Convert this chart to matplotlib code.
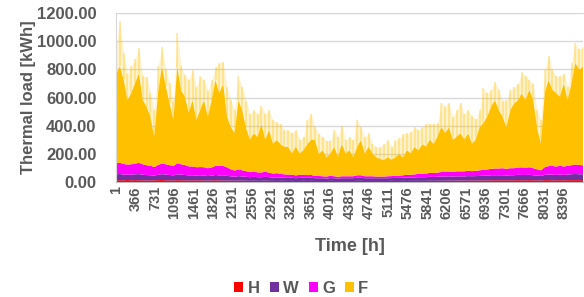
import numpy as np
import matplotlib
matplotlib.use("Agg")
from matplotlib import pyplot as plt
from matplotlib.patches import Patch


# hourly thermal load at ~3 day steps over the year
H = [12, 13, 12, 14, 12, 13, 12, 12, 11, 12,
     12, 13, 14, 12, 12, 11, 13, 12, 12, 11,
     12, 11, 12, 11, 10, 11, 12, 11, 10, 10,
     10, 9, 10, 9, 9, 8, 9, 8, 8, 9,
     8, 8, 7, 8, 8, 7, 8, 7, 7, 8,
     7, 8, 7, 7, 7, 7, 8, 7, 7, 7,
     7, 7, 7, 8, 8, 7, 7, 7, 7, 7,
     7, 7, 8, 7, 7, 8, 7, 8, 8, 8,
     8, 8, 9, 8, 9, 9, 9, 10, 9, 10,
     10, 10, 10, 11, 10, 11, 11, 11, 12, 12,
     12, 12, 12, 12, 12, 13, 12, 12, 13, 12,
     12, 11, 13, 13, 12, 12, 13, 12, 13, 13,
     13, 13, 13]

W = [42, 44, 40, 38, 40, 42, 44, 40, 38, 36,
     34, 38, 42, 40, 38, 36, 42, 40, 38, 36,
     36, 34, 36, 34, 32, 34, 38, 36, 38, 34,
     30, 28, 32, 30, 28, 26, 28, 26, 26, 28,
     26, 24, 26, 24, 22, 22, 22, 20, 22, 22,
     22, 22, 20, 20, 20, 18, 20, 20, 18, 20,
     20, 20, 20, 22, 22, 20, 20, 20, 20, 20,
     20, 20, 20, 22, 22, 22, 24, 24, 24, 26,
     26, 26, 28, 28, 28, 30, 30, 30, 30, 30,
     30, 30, 32, 30, 32, 32, 34, 34, 36, 36,
     36, 36, 34, 36, 36, 38, 38, 38, 38, 36,
     34, 32, 38, 40, 40, 38, 40, 38, 40, 42,
     44, 42, 42]

G = [78, 80, 76, 72, 74, 76, 80, 74, 70, 68,
     60, 70, 76, 74, 70, 66, 78, 74, 70, 64,
     62, 60, 58, 60, 56, 58, 64, 68, 66, 60,
     50, 44, 48, 44, 40, 36, 38, 34, 34, 36,
     32, 28, 30, 26, 24, 24, 22, 20, 22, 22,
     20, 20, 16, 16, 14, 14, 16, 14, 12, 14,
     14, 14, 14, 18, 18, 14, 14, 14, 12, 12,
     12, 14, 14, 16, 16, 18, 20, 20, 22, 24,
     24, 26, 28, 28, 30, 32, 32, 34, 34, 36,
     36, 36, 38, 36, 38, 40, 42, 44, 46, 48,
     48, 50, 48, 50, 50, 52, 54, 52, 54, 50,
     44, 40, 54, 60, 62, 60, 62, 60, 62, 64,
     68, 66, 64]

# F: typical level, F_max: short hourly peaks of F in the same period
F = [630, 685, 600, 455, 505, 570, 635, 455, 415, 345,
     215, 510, 690, 555, 440, 325, 685, 525, 485, 380,
     470, 335, 405, 475, 365, 475, 610, 515, 585, 360,
     300, 265, 490, 425, 305, 230, 270, 250, 345, 225,
     305, 210, 235, 210, 195, 195, 150, 205, 150, 175,
     220, 250, 255, 155, 185, 135, 155, 210, 140, 230,
     160, 185, 135, 200, 250, 160, 210, 160, 135, 125,
     115, 135, 115, 130, 155, 125, 175, 150, 195, 165,
     210, 190, 235, 205, 255, 320, 275, 315, 225, 245,
     270, 225, 265, 195, 220, 305, 330, 375, 440, 485,
     415, 365, 295, 410, 460, 475, 525, 480, 550, 480,
     300, 185, 525, 610, 540, 520, 490, 590, 465, 580,
     720, 675, 700]

F_max = [830, 1005, 785, 645, 695, 740, 815, 625, 630, 515,
         405, 700, 830, 675, 580, 465, 925, 695, 640, 615,
         685, 570, 645, 620, 550, 620, 705, 730, 740, 570,
         490, 430, 660, 590, 500, 415, 435, 415, 475, 410,
         445, 380, 360, 355, 315, 315, 295, 325, 250, 270,
         390, 435, 345, 300, 280, 255, 250, 330, 285, 360,
         255, 280, 255, 390, 340, 280, 305, 230, 210, 210,
         230, 255, 210, 250, 265, 295, 295, 305, 335, 310,
         330, 355, 350, 350, 350, 490, 465, 485, 390, 435,
         485, 410, 430, 390, 370, 425, 580, 540, 560, 615,
         560, 480, 485, 555, 575, 595, 675, 650, 620, 600,
         420, 355, 690, 785, 680, 640, 635, 660, 560, 725,
         860, 820, 840]

LABELS = ["H", "W", "G", "F"]
COLORS = ["#FF0000", "#7030A0", "#FF00FF", "#FFC000"]
TICK_HOURS = list(range(1, 8761, 365))
Y_TICKS = [0, 200, 400, 600, 800, 1000, 1200]

GREY = "#595959"


def main():
    plt.rcParams["font.family"] = ["Liberation Sans", "DejaVu Sans"]
    plt.rcParams["font.weight"] = "bold"

    hours = np.linspace(1, 8760, len(F))
    base = np.array(H) + np.array(W) + np.array(G)
    f_top = base + np.array(F)
    f_peak = base + np.array(F_max)

    fig = plt.figure(figsize=(5.84, 2.97), dpi=100)
    ax = fig.add_axes([116 / 584, 1 - 182 / 297, 467 / 584, 169 / 297])

    ax.stackplot(hours, H, W, G, F, colors=COLORS, linewidth=0, zorder=2)
    # pale fringe = thin hourly peaks above the dense part
    ax.fill_between(hours, f_top, f_peak, color="#FFC000", alpha=0.2,
                    linewidth=0, zorder=2)
    ax.vlines(hours, f_top, f_peak, color="#FFC000", alpha=0.35,
              linewidth=1.2, zorder=2)

    ax.set_xlim(1, 8760)
    ax.set_ylim(0, 1200)
    ax.set_yticks(Y_TICKS)
    ax.set_yticklabels([f"{v:.2f}" for v in Y_TICKS])
    ax.set_xticks(TICK_HOURS)
    ax.set_xticklabels([str(t) for t in TICK_HOURS], rotation=90)

    ax.tick_params(axis="y", length=0, pad=14, labelsize=12, labelcolor=GREY)
    ax.tick_params(axis="x", length=0, pad=3, labelsize=10.5, labelcolor=GREY)
    for lab in ax.get_xticklabels() + ax.get_yticklabels():
        lab.set_fontweight("bold")

    ax.yaxis.grid(True, color="#D9D9D9", linewidth=1, zorder=0)
    ax.set_axisbelow(True)
    ax.spines["right"].set_visible(False)
    ax.spines["top"].set_color("#D9D9D9")
    ax.spines["left"].set_color("#D9D9D9")
    ax.spines["bottom"].set_color("#BFBFBF")

    ax.set_ylabel("Thermal load [kWh]", fontsize=12, fontweight="bold",
                  color=GREY, labelpad=1)
    ax.set_xlabel("Time [h]", fontsize=13, fontweight="bold",
                  color=GREY, labelpad=14)

    handles = [Patch(facecolor=c, edgecolor="none") for c in COLORS]
    fig.legend(handles, LABELS, loc="center", bbox_to_anchor=(0.516, 0.03),
               ncol=4, frameon=False, handlelength=0.55,
               handleheight=0.55, handletextpad=0.25, columnspacing=0.6,
               labelcolor=GREY, prop={"weight": "bold", "size": 12})

    fig.savefig("out.png", dpi=100)


if __name__ == "__main__":
    main()
